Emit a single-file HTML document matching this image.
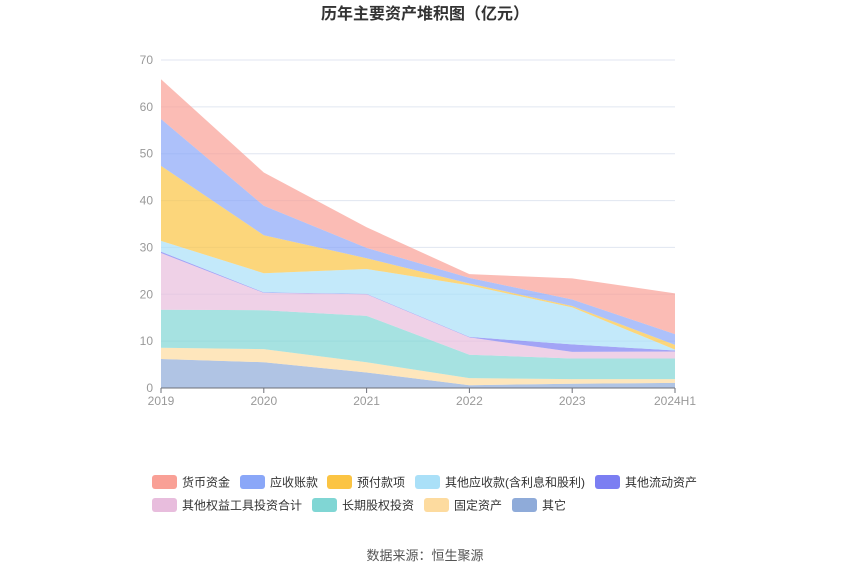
<!DOCTYPE html>
<html><head><meta charset="utf-8">
<style>
body{margin:0;background:#fff;font-family:"Liberation Sans","Noto Sans CJK SC",sans-serif;}
#wrap{position:relative;width:850px;height:575px;overflow:hidden;}
</style></head>
<body>
<div id="wrap">
<svg id="chart" width="850" height="575" xmlns="http://www.w3.org/2000/svg">
<text x="425" y="19" text-anchor="middle" font-size="16" font-weight="bold" fill="#333">历年主要资产堆积图（亿元）</text>
<g id="grid"></g><g id="areas"></g><g id="axes"></g><g id="legend"></g>
<text x="425" y="560" text-anchor="middle" font-size="13" fill="#555">数据来源：恒生聚源</text>
</svg>
</div>
<script>
const categories=["2019","2020","2021","2022","2023","2024H1"];
const yTicks=[0,10,20,30,40,50,60,70];
const seriesNames=["其它","固定资产","长期股权投资","其他权益工具投资合计","其他流动资产","其他应收款(含利息和股利)","预付款项","应收账款","货币资金"];
const sOther=[6.2,5.5,3.3,0.6,0.9,1.1];
const sFixed=[2.4,2.8,2.2,1.5,1.0,0.8];
const sLongEq=[8.1,8.3,9.9,5.0,4.4,4.4];
const sOtherEq=[12.1,3.7,4.6,3.7,1.4,1.5];
const sOtherCur=[0.3,0.1,0.1,0.1,1.6,0.2];
const sOtherRec=[2.3,4.1,5.3,11.0,7.9,0.2];
const sPrepay=[16.0,8.1,2.3,0.4,0.3,1.0];
const sRecv=[10.0,6.3,2.2,1.2,1.4,2.3];
const sCash=[8.5,7.1,4.4,0.8,4.5,8.7];
const seriesData=[sOther,sFixed,sLongEq,sOtherEq,sOtherCur,sOtherRec,sPrepay,sRecv,sCash];
const colors=["#8fabd9","#fddb9f","#80d6d4","#e8bddd","#7b7ef2","#aae0f8","#fbc443","#8aa7f8","#f9a096"];
const slugs=["other","fixed-assets","long-term-equity","other-equity-instruments","other-current-assets","other-receivables","prepayments","accounts-receivable","cash"];
const NS="http://www.w3.org/2000/svg";
const x0=161,x1=675,y0=388,yTop=60,yMax=70;
const xs=i=>x0+(x1-x0)*i/(categories.length-1);
const ys=v=>y0-(y0-yTop)*v/yMax;
function mk(t,a){const e=document.createElementNS(NS,t);for(const k in a)e.setAttribute(k,a[k]);return e;}
const grid=document.getElementById('grid'),axes=document.getElementById('axes'),areas=document.getElementById('areas'),legend=document.getElementById('legend');
yTicks.forEach(v=>{
  const l=mk('line',{x1:x0,x2:x1,y1:ys(v),y2:ys(v),stroke:'#e0e6f1','stroke-width':1});
  
  
  grid.appendChild(l);
  const t=mk('text',{x:153,y:ys(v)+4,'text-anchor':'end','font-size':12,fill:'#999'});t.textContent=v;
  
  
  axes.appendChild(t);
});
let base=categories.map(()=>0);
seriesData.forEach((s,si)=>{
  const top=base.map((b,i)=>b+s[i]);
  let d='M'+categories.map((c,i)=>xs(i)+','+ys(top[i])).join(' L');
  for(let i=categories.length-1;i>=0;i--)d+=' L'+xs(i)+','+ys(base[i]);
  d+='Z';
  const p=mk('path',{d:d,fill:colors[si],'fill-opacity':0.7,stroke:'none'});
  
  
  areas.appendChild(p);
  base=top;
});
const ax=mk('line',{x1:x0,x2:x1,y1:y0,y2:y0,stroke:'#6e7079','stroke-width':1});


axes.appendChild(ax);
categories.forEach((c,i)=>{
  const tk=mk('line',{x1:xs(i),x2:xs(i),y1:y0,y2:y0+5,stroke:'#6e7079'});
  
  
  axes.appendChild(tk);
  const t=mk('text',{x:xs(i),y:405,'text-anchor':'middle','font-size':12,fill:'#999'});t.textContent=c;
  
  
  axes.appendChild(t);
});
const legendOrder=[8,7,6,5,4,3,2,1,0];
const legPos=[[152,482],[240,482],[327,482],[415,482],[595,482],[152,505],[312,505],[424,505],[512,505]];
legendOrder.forEach((si,k)=>{
  const g=mk('g',{});
  
  
  const [lx,ly]=legPos[k];
  g.appendChild(mk('rect',{x:lx,y:ly-7,width:25,height:14,rx:3,fill:colors[si]}));
  const t=mk('text',{x:lx+30,y:ly+4.5,'font-size':12,fill:'#333'});t.textContent=seriesNames[si];
  g.appendChild(t);
  legend.appendChild(g);
});
</script>
</body></html>
